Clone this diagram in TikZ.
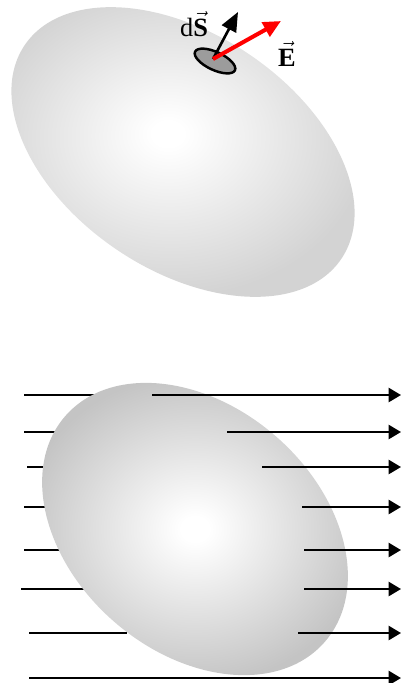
\documentclass[tikz,border=0pt]{standalone}
\usepackage{fontspec}
\setmainfont{Liberation Serif}
\usepackage{tikz}
\usetikzlibrary{arrows.meta}
\definecolor{TopGray}{HTML}{D3D3D3}
\definecolor{BotGray}{HTML}{C4C4C4}
\definecolor{PatchGray}{HTML}{9C9C9C}
\pgfdeclareradialshading{topblob}{\pgfpoint{-2bp}{3bp}}{color(0bp)=(white);color(2bp)=(white);color(25bp)=(TopGray);color(70bp)=(TopGray)}
\pgfdeclareradialshading{botblob}{\pgfpoint{0bp}{0bp}}{color(0bp)=(white);color(2bp)=(white);color(25bp)=(BotGray);color(70bp)=(BotGray)}

\begin{document}
\begin{tikzpicture}[x=0.02cm,y=-0.02cm,
  fieldline/.style={black,line width=1.2pt},
  fluxarrow/.style={fieldline,-{Triangle[length=7pt,width=8pt]}}]
  \useasboundingbox (0,0) rectangle (401,683);
  % upper surface with a small patch
  \shade[shading=topblob,rotate around={-34:(183,152)}] (183,152) ellipse [x radius=191,y radius=118];
  \draw[black,line width=1.4pt,fill=PatchGray,rotate around={-25:(215,61)}] (215,61) ellipse [x radius=22,y radius=9];
  \coordinate (dS0) at (213,59);
  \coordinate (dS1) at (238,12);
  \coordinate (E1) at (281,21);
  \draw[black,line width=1.5pt,-{Triangle[length=11pt,width=9pt]}] (dS0) -- (dS1);
  \draw[red,line width=2.3pt,-{Triangle[length=10pt,width=9pt]}] (dS0) -- (E1);
  \node[font=\fontsize{15}{17}\selectfont,inner sep=0pt] (dSlabel) at (194,24) {d$\vec{\textbf{S}}$};
  \node[font=\fontsize{15}{17}\selectfont,inner sep=0pt] (Elabel) at (287,54) {$\vec{\textbf{E}}$};
  % lower surface in a uniform field
  \foreach \y/\xa/\xb in {395/24/100,432/24/60,467/27/48,507/24/50,550/24/62,589/21/86,633/29/127}
    \draw[fieldline] (\xa,\y) -- (\xb,\y);
  \shade[shading=botblob,rotate around={-41:(195,529)}] (195,529) ellipse [x radius=172,y radius=123];
  \foreach \y/\xa in {395/152,432/227,467/262,507/302,550/304,589/304,633/298,678/29}
    \draw[fluxarrow] (\xa,\y) -- (401,\y);
\end{tikzpicture}
\end{document}
